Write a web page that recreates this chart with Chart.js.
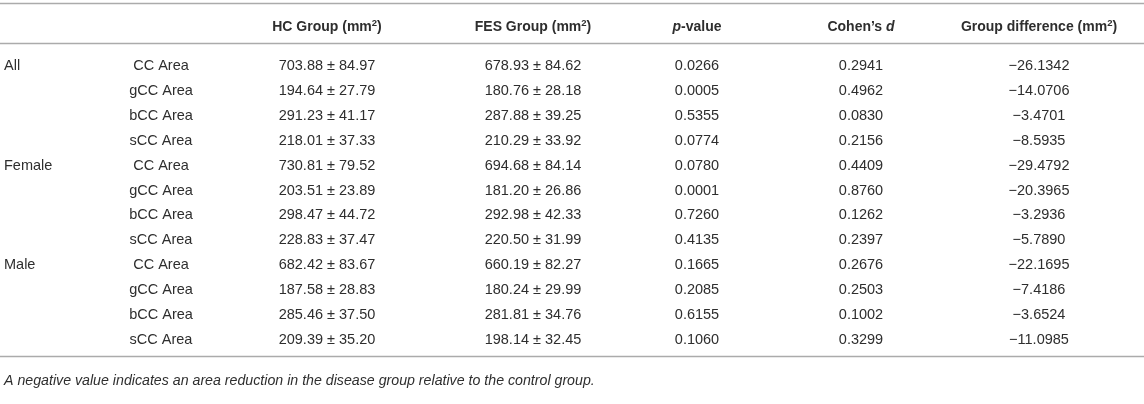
<!DOCTYPE html>
<html>
<head>
<meta charset="utf-8">
<script src="https://cdn.jsdelivr.net/npm/chart.js@4/dist/chart.umd.min.js"></script>
<style>
html,body{margin:0;padding:0;background:#fff;}
#wrap{width:1144px;height:404px;position:relative;}
</style>
</head>
<body>
<div id="wrap"><canvas id="c"></canvas></div>
<script>
// ---- data ----
const groups = ['All', 'Female', 'Male'];
const regions = ['CC Area', 'gCC Area', 'bCC Area', 'sCC Area'];
const hcMean  = [703.88, 194.64, 291.23, 218.01, 730.81, 203.51, 298.47, 228.83, 682.42, 187.58, 285.46, 209.39];
const hcSD    = [84.97, 27.79, 41.17, 37.33, 79.52, 23.89, 44.72, 37.47, 83.67, 28.83, 37.50, 35.20];
const fesMean = [678.93, 180.76, 287.88, 210.29, 694.68, 181.20, 292.98, 220.50, 660.19, 180.24, 281.81, 198.14];
const fesSD   = [84.62, 28.18, 39.25, 33.92, 84.14, 26.86, 42.33, 31.99, 82.27, 29.99, 34.76, 32.45];
const pValue  = [0.0266, 0.0005, 0.5355, 0.0774, 0.0780, 0.0001, 0.7260, 0.4135, 0.1665, 0.2085, 0.6155, 0.1060];
const cohenD  = [0.2941, 0.4962, 0.0830, 0.2156, 0.4409, 0.8760, 0.1262, 0.2397, 0.2676, 0.2503, 0.1002, 0.3299];
const groupDiff = [-26.1342, -14.0706, -3.4701, -8.5935, -29.4792, -20.3965, -3.2936, -5.7890, -22.1695, -7.4186, -3.6524, -11.0985];
const headers = [
  [],
  [],
  [{t:'HC Group (mm'},{t:'2',sup:true},{t:')'}],
  [{t:'FES Group (mm'},{t:'2',sup:true},{t:')'}],
  [{t:'p',it:true},{t:'-value'}],
  [{t:'Cohen\u2019s '},{t:'d',it:true}],
  [{t:'Group difference (mm'},{t:'2',sup:true},{t:')'}]
];
const footnote = 'A negative value indicates an area reduction in the disease group relative to the control group.';

// ---- derived cell text ----
const nRows = hcMean.length;
const fmt = (v) => (v < 0 ? '\u2212' : '') + Math.abs(v).toFixed(4);
const cellText = [
  (i) => (i % regions.length === 0 ? groups[i / regions.length] : ''),
  (i) => regions[i % regions.length],
  (i) => hcMean[i].toFixed(2) + ' \u00b1 ' + hcSD[i].toFixed(2),
  (i) => fesMean[i].toFixed(2) + ' \u00b1 ' + fesSD[i].toFixed(2),
  (i) => pValue[i].toFixed(4),
  (i) => cohenD[i].toFixed(4),
  (i) => fmt(groupDiff[i])
];

// ---- layout (positions/styles) ----
const colX = [4, 161, 327, 533, 697, 861, 1039];
const colAlign = ['left', 'center', 'center', 'center', 'center', 'center', 'center'];
const PX_PER_ROW = 24.9, ROW0_PX = 66, H = 404;
const yMin = -ROW0_PX / PX_PER_ROW, yMax = yMin + H / PX_PER_ROW;
const toRow = (px) => (px - ROW0_PX) / PX_PER_ROW;
const headerRow = toRow(27.5), topRule = toRow(3), headRule = toRow(43), bottomRule = toRow(356), noteRow = toRow(381);
const FONT = '"Liberation Sans", Arial, Helvetica, sans-serif';
const TXT = '#2e2e2e';
const RULE = '#ababab';
const FS = 14.5;
const HEAD_FS = 14;
const NOTE_FS = 14.2;

const datasets = colX.map((x, c) => ({
  label: 'col' + c,
  data: Array.from({length: nRows}, (_, i) => ({x: x, y: i})),
  pointRadius: 0,
  pointHoverRadius: 0
}));

function drawRich(ctx, segs, x, y, align, bold, fs) {
  const base = (s) => (s.it ? 'italic ' : '') + (bold ? 'bold ' : '') + (s.sup ? fs * 0.68 : fs) + 'px ' + FONT;
  let w = 0;
  segs.forEach(s => { ctx.font = base(s); w += ctx.measureText(s.t).width; });
  let cx = align === 'center' ? x - w / 2 : (align === 'right' ? x - w : x);
  ctx.textAlign = 'left';
  ctx.textBaseline = 'middle';
  segs.forEach(s => {
    ctx.font = base(s);
    ctx.fillText(s.t, cx, s.sup ? y - fs * 0.33 : y);
    cx += ctx.measureText(s.t).width;
  });
}

const tablePlugin = {
  id: 'tablePlugin',
  afterDatasetsDraw(chart) {
    const ctx = chart.ctx;
    const ys = chart.scales.y;
    const W = chart.width;
    ctx.save();
    ctx.strokeStyle = RULE;
    ctx.lineWidth = 1.5;
    [topRule, headRule, bottomRule].forEach(r => {
      const py = Math.round(ys.getPixelForValue(r)) + 0.5;
      ctx.beginPath(); ctx.moveTo(0, py); ctx.lineTo(W, py); ctx.stroke();
    });
    ctx.fillStyle = TXT;
    const hy = ys.getPixelForValue(headerRow);
    headers.forEach((segs, c) => {
      if (segs.length) drawRich(ctx, segs, chart.scales.x.getPixelForValue(colX[c]), hy, colAlign[c], true, HEAD_FS);
    });
    chart.data.datasets.forEach((ds, c) => {
      const meta = chart.getDatasetMeta(c);
      meta.data.forEach((el, i) => {
        const t = cellText[c](i);
        if (t) drawRich(ctx, [{t: t}], el.x, el.y, colAlign[c], false, FS);
      });
    });
    ctx.font = 'italic ' + NOTE_FS + 'px ' + FONT;
    ctx.textAlign = 'left';
    ctx.textBaseline = 'middle';
    ctx.fillText(footnote, 4, ys.getPixelForValue(noteRow));
    ctx.restore();
  }
};

new Chart(document.getElementById('c'), {
  type: 'scatter',
  data: { datasets: datasets },
  options: {
    responsive: true,
    maintainAspectRatio: false,
    animation: false,
    layout: { padding: 0 },
    plugins: { legend: { display: false }, tooltip: { enabled: false } },
    events: [],
    scales: {
      x: { type: 'linear', min: 0, max: 1144, display: false },
      y: { type: 'linear', min: yMin, max: yMax, reverse: true, display: false }
    }
  },
  plugins: [tablePlugin]
});
</script>
</body>
</html>
